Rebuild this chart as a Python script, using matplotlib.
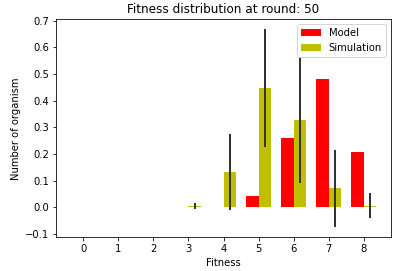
import numpy as np
import matplotlib
matplotlib.use("Agg")
import matplotlib.pyplot as plt

fitness = [0, 1, 2, 3, 4, 5, 6, 7, 8]
model = [0.0, 0.0, 0.0, 0.0, 0.0, 0.041, 0.262, 0.481, 0.206]
simulation = [0.0, 0.0, 0.0, 0.005, 0.134, 0.447, 0.326, 0.071, 0.007]
sim_err = [0.0, 0.0, 0.0, 0.012, 0.142, 0.221, 0.236, 0.146, 0.048]

x = np.arange(len(fitness))
width = 0.35

fig = plt.figure(figsize=(406 / 72, 271 / 72), dpi=72)
ax = fig.add_axes([56 / 406, (271 - 237.3) / 271, (391 - 56) / 406, (237.3 - 19.3) / 271])
ax.bar(x - width / 2, model, width, color='r', label='Model')
ax.bar(x + width / 2, simulation, width, color='y', label='Simulation',
       yerr=sim_err, error_kw=dict(ecolor='#333333', elinewidth=2))
ax.set_xticks(x)
ax.set_xticklabels(fitness)
ax.set_xlabel("Fitness")
ax.set_ylabel("Number of organism")
ax.set_title("Fitness distribution at round: 50")
ax.legend(loc='upper right')
fig.savefig("out.png", dpi=72)
